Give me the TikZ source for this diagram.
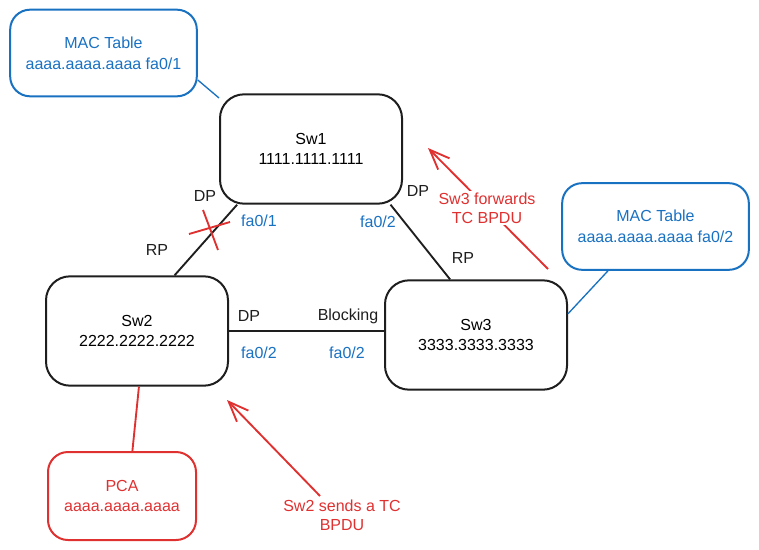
\documentclass[tikz,border=0pt]{standalone}
\usepackage{fontspec}
\setmainfont{Liberation Sans}
\usetikzlibrary{arrows.meta}
\definecolor{xblue}{HTML}{1971C2}
\definecolor{xred}{HTML}{E03131}
\definecolor{xblack}{HTML}{1E1E1E}
\begin{document}
\begin{tikzpicture}[>={Straight Barb[length=15pt,width=12pt]}, x=0.75pt, y=-0.75pt,
  every node/.style={align=center, font=\fontsize{12}{15.5}\selectfont, inner sep=2pt},
  switchbox/.style={draw=xblack, line width=1.5pt, rounded corners=18pt, minimum width=136.5pt, minimum height=82pt},
  tablebox/.style={draw=xblue, text=xblue, line width=1.5pt, rounded corners=15pt, minimum width=140pt, minimum height=65pt},
  hostbox/.style={draw=xred, text=xred, line width=1.5pt, rounded corners=15pt, minimum width=111pt, minimum height=66pt},
  link/.style={draw=xblack, line width=1.4pt},
  portlbl/.style={text=xblue},
  rolelbl/.style={text=xblack},
  note/.style={text=xred, fill=white, inner sep=1.5pt, font=\fontsize{12}{14}\selectfont},
  redarrow/.style={draw=xred, line width=1.4pt, ->}]
\useasboundingbox (0,0) rectangle (759,549);
\node[tablebox] (mac1) at (103.5,53) {MAC Table\\aaaa.aaaa.aaaa fa0/1};
\node[switchbox] (sw1) at (311,149) {Sw1\\1111.1111.1111};
\node[switchbox] (sw2) at (137,331) {Sw2\\2222.2222.2222};
\node[switchbox] (sw3) at (476,335) {Sw3\\3333.3333.3333};
\node[tablebox] (mac2) at (655.5,226.5) {MAC Table\\aaaa.aaaa.aaaa fa0/2};
\node[hostbox] (pca) at (122,496) {PCA\\aaaa.aaaa.aaaa};
\draw[link] (sw1.217) -- (sw2.56);
\draw[link] (sw1.-35) -- (sw3.115);
\draw[link] (sw2.east) -- (sw2.east -| sw3.west);
\draw[draw=xblue, line width=1pt] (mac1.-16) -- (sw1.151);
\draw[draw=xblue, line width=1pt] (mac2.223) -- (sw3.13);
\draw[draw=xred, line width=1.4pt] (sw2.-88) -- (pca.77);
% port roles
\node[rolelbl] (dp12) at (205,196) {DP};
\node[portlbl] (p11) at (259,221) {fa0/1};
\node[rolelbl] (rp21) at (157,250) {RP};
\node[portlbl] (p12) at (378,222) {fa0/2};
\node[rolelbl] (dp13) at (418,191) {DP};
\node[rolelbl] (rp31) at (463,258) {RP};
\node[rolelbl] (dp23) at (249,316) {DP};
\node[rolelbl] (blk32) at (348,316) {Blocking};
\node[portlbl] (p22) at (259,353) {fa0/2};
\node[portlbl] (p32) at (347,353) {fa0/2};
% failed link
\draw[draw=xred, line width=1.4pt] (189,234) -- (230,222) (203,210) -- (218,250);
% TC BPDU flow
\coordinate (fwdtail) at (548,269);
\coordinate (fwdhead) at (428,148);
\draw[redarrow] (fwdtail) -- (fwdhead);
\node[note] (fwd) at (487,208) {Sw3 forwards\\TC BPDU};
\coordinate (sendtail) at (320,496);
\coordinate (sendhead) at (227,400);
\draw[redarrow] (sendtail) -- (sendhead);
\node[note] (send) at (342,515) {Sw2 sends a TC\\BPDU};
\end{tikzpicture}
\end{document}
